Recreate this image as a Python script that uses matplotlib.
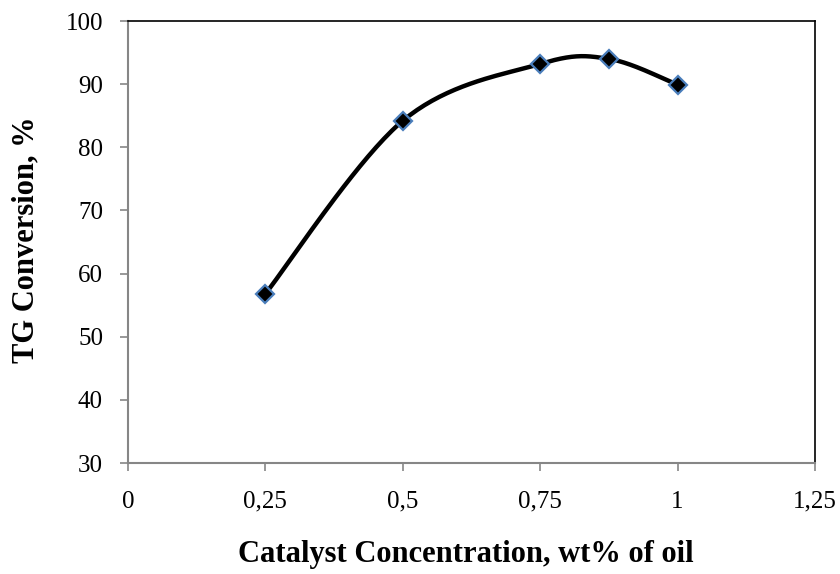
import numpy as np
import matplotlib
matplotlib.use("Agg")
import matplotlib.pyplot as plt

# data
catalyst = [0.25, 0.5, 0.75, 0.875, 1.0]
conversion = [56.8, 84.2, 93.2, 94.0, 89.9]
x_ticks = [0, 0.25, 0.5, 0.75, 1.0, 1.25]
x_tick_labels = ["0", "0,25", "0,5", "0,75", "1", "1,25"]
y_ticks = [30, 40, 50, 60, 70, 80, 90, 100]

plt.rcParams['font.family'] = ['Liberation Serif', 'DejaVu Serif']

fig = plt.figure(figsize=(8.4, 5.74), dpi=100)
ax_rect = [128 / 840, 1 - 463 / 574, (815 - 128) / 840, (463 - 21) / 574]
ax = fig.add_axes(ax_rect)

xmin, xmax, ymin, ymax = 0, 1.25, 30, 100


def smooth_line(xs, ys, n=40):
    # Excel-like smoothed line: Bezier with Catmull-Rom control points,
    # worked out in screen space so it looks right
    w, h = ax_rect[2] * 8.4, ax_rect[3] * 5.74
    px = (np.array(xs) - xmin) / (xmax - xmin) * w
    py = (np.array(ys) - ymin) / (ymax - ymin) * h
    pts = np.column_stack([px, py])
    out = []
    for i in range(len(pts) - 1):
        p0 = pts[i - 1] if i > 0 else pts[i]
        p1 = pts[i]
        p2 = pts[i + 1]
        p3 = pts[i + 2] if i + 2 < len(pts) else pts[i + 1]
        c1 = p1 + (p2 - p0) / 6
        c2 = p2 - (p3 - p1) / 6
        t = np.linspace(0, 1, n)[:, None]
        seg = ((1 - t) ** 3) * p1 + 3 * ((1 - t) ** 2) * t * c1 + 3 * (1 - t) * t ** 2 * c2 + t ** 3 * p2
        out.append(seg if i == 0 else seg[1:])
    out = np.vstack(out)
    sx = out[:, 0] / w * (xmax - xmin) + xmin
    sy = out[:, 1] / h * (ymax - ymin) + ymin
    return sx, sy


sx, sy = smooth_line(catalyst, conversion)
ax.plot(sx, sy, color="black", lw=3.2, solid_capstyle="round", zorder=2)
ax.plot(catalyst, conversion, linestyle="none", marker="D", markersize=9,
        markerfacecolor="black", markeredgecolor="#4a7ebb", markeredgewidth=1.6, zorder=3)

ax.set_xlim(xmin, xmax)
ax.set_ylim(ymin, ymax)
ax.set_xticks(x_ticks)
ax.set_xticklabels(x_tick_labels)
ax.set_yticks(y_ticks)

for side in ["left", "bottom"]:
    ax.spines[side].set_color("#868686")
    ax.spines[side].set_linewidth(1.5)
for side in ["top", "right"]:
    ax.spines[side].set_color("black")
    ax.spines[side].set_linewidth(1.2)

ax.tick_params(axis="both", direction="out", length=6, width=1.2, color="#868686",
               labelsize=18)
ax.tick_params(axis="x", pad=14)
ax.tick_params(axis="y", pad=12)

fig.text(466 / 840, 12 / 574, "Catalyst Concentration, wt% of oil", fontsize=22,
         fontweight="bold", ha="center", va="baseline")
fig.text(26 / 840, 1 - 240 / 574, "TG Conversion, %", fontsize=22,
         fontweight="bold", ha="center", va="center", rotation=90)

fig.savefig("out.png", dpi=100)
